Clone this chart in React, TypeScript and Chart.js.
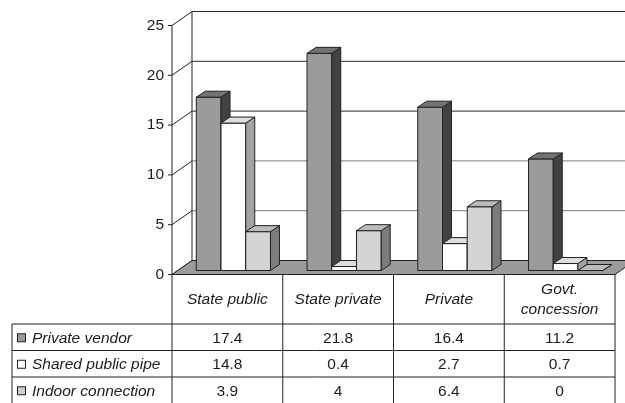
import React, { useEffect, useRef } from "react";
import { Chart, registerables } from "chart.js";

Chart.register(...registerables);

// ---- data ----
const CATEGORY_LABELS: string[][] = [
  ["State public"],
  ["State private"],
  ["Private"],
  ["Govt.", "concession"],
];
const SERIES_NAMES = ["Private vendor", "Shared public pipe", "Indoor connection"];
const PRIVATE_VENDOR = [17.4, 21.8, 16.4, 11.2];
const SHARED_PUBLIC_PIPE = [14.8, 0.4, 2.7, 0.7];
const INDOOR_CONNECTION = [3.9, 4, 6.4, 0];
const Y_TICKS = [0, 5, 10, 15, 20, 25];

// ---- styles ----
const FACE_COLORS = [
  { front: "#9b9b9b", side: "#424242", top: "#727272" },
  { front: "#ffffff", side: "#a3a3a3", top: "#dedede" },
  { front: "#d4d4d4", side: "#7c7c7c", top: "#bcbcbc" },
];
const SWATCH_COLORS = ["#9b9b9b", "#ffffff", "#cccccc"];
const FONT = "'Liberation Sans', Arial, sans-serif";
const FONT_SIZE = 15.5;
const TEXT = "#1c1c1c";
const LINE = "#222222";

const WALL_DX = 20;
const WALL_DY = -14;
const BAR_OX = 6;
const BAR_OY = -4;
const BAR_DX = 9;
const BAR_DY = -6;
const HEADER_BOTTOM = 324;
const ROW_H = 26.5;
const TABLE_LEFT = 12;

const threeD = {
  id: "threeD",
  beforeDatasetsDraw(chart: any) {
    const ctx: CanvasRenderingContext2D = chart.ctx;
    const { left, right } = chart.chartArea;
    const y = chart.scales.y;
    const y0 = y.getPixelForValue(0);
    const yTop = y.getPixelForValue(Y_TICKS[Y_TICKS.length - 1]);
    ctx.save();
    ctx.lineWidth = 1;
    // back wall gridlines
    Y_TICKS.forEach((v) => {
      if (v === 0) return;
      const py = y.getPixelForValue(v) + WALL_DY;
      ctx.strokeStyle = v >= 15 ? "#2a2a2a" : "#7a7a7a";
      ctx.beginPath();
      ctx.moveTo(left + WALL_DX, py);
      ctx.lineTo(chart.width + 5, py);
      ctx.stroke();
    });
    // diagonal lines of the left wall
    ctx.strokeStyle = LINE;
    Y_TICKS.forEach((v) => {
      const py = y.getPixelForValue(v);
      ctx.beginPath();
      ctx.moveTo(left, py);
      ctx.lineTo(left + WALL_DX, py + WALL_DY);
      ctx.stroke();
    });
    // back wall left edge
    ctx.beginPath();
    ctx.moveTo(left + WALL_DX, yTop + WALL_DY);
    ctx.lineTo(left + WALL_DX, y0 + WALL_DY);
    ctx.stroke();
    // floor
    ctx.fillStyle = "#9b9b9b";
    ctx.beginPath();
    ctx.moveTo(left, y0);
    ctx.lineTo(right, y0);
    ctx.lineTo(right + WALL_DX, y0 + WALL_DY);
    ctx.lineTo(left + WALL_DX, y0 + WALL_DY);
    ctx.closePath();
    ctx.fill();
    ctx.stroke();
    // front axis
    ctx.beginPath();
    ctx.moveTo(left, yTop);
    ctx.lineTo(left, y0);
    ctx.stroke();
    ctx.font = `${FONT_SIZE}px ${FONT}`;
    ctx.fillStyle = TEXT;
    ctx.textAlign = "right";
    ctx.textBaseline = "middle";
    Y_TICKS.forEach((v) => {
      const py = y.getPixelForValue(v);
      ctx.beginPath();
      ctx.moveTo(left - 4, py);
      ctx.lineTo(left, py);
      ctx.stroke();
      ctx.fillText(String(v), left - 8, py);
    });
    ctx.restore();
  },
  afterDatasetsDraw(chart: any) {
    const ctx: CanvasRenderingContext2D = chart.ctx;
    const n = chart.data.labels.length;
    ctx.save();
    ctx.lineWidth = 1;
    ctx.strokeStyle = LINE;
    ctx.lineJoin = "round";
    for (let i = 0; i < n; i++) {
      chart.data.datasets.forEach((_: any, j: number) => {
        const el = chart.getDatasetMeta(j).data[i];
        const c = FACE_COLORS[j];
        const x0 = el.x - el.width / 2 + BAR_OX;
        const x1 = el.x + el.width / 2 + BAR_OX;
        const yt = el.y + BAR_OY;
        const yb = el.base + BAR_OY;
        // front
        ctx.fillStyle = c.front;
        ctx.beginPath();
        ctx.rect(x0, yt, x1 - x0, yb - yt);
        ctx.fill();
        ctx.stroke();
        // side
        ctx.fillStyle = c.side;
        ctx.beginPath();
        ctx.moveTo(x1, yt);
        ctx.lineTo(x1 + BAR_DX, yt + BAR_DY);
        ctx.lineTo(x1 + BAR_DX, yb + BAR_DY);
        ctx.lineTo(x1, yb);
        ctx.closePath();
        ctx.fill();
        ctx.stroke();
        // top
        ctx.fillStyle = c.top;
        ctx.beginPath();
        ctx.moveTo(x0, yt);
        ctx.lineTo(x1, yt);
        ctx.lineTo(x1 + BAR_DX, yt + BAR_DY);
        ctx.lineTo(x0 + BAR_DX, yt + BAR_DY);
        ctx.closePath();
        ctx.fill();
        ctx.stroke();
      });
    }
    ctx.restore();
  },
  afterDraw(chart: any) {
    const ctx: CanvasRenderingContext2D = chart.ctx;
    const { left, right } = chart.chartArea;
    const xs = chart.scales.x;
    const y0 = chart.scales.y.getPixelForValue(0);
    const labels = chart.data.labels;
    const n = labels.length;
    const cw = (right - left) / n;
    const datasets = chart.data.datasets;
    const bottom = HEADER_BOTTOM + ROW_H * datasets.length;
    ctx.save();
    ctx.lineWidth = 1;
    ctx.strokeStyle = LINE;
    // vertical lines
    for (let i = 0; i <= n; i++) {
      const px = i < n ? xs.getPixelForValue(i) - cw / 2 : xs.getPixelForValue(n - 1) + cw / 2;
      ctx.beginPath();
      ctx.moveTo(px, y0);
      ctx.lineTo(px, bottom);
      ctx.stroke();
    }
    ctx.beginPath();
    ctx.moveTo(TABLE_LEFT, HEADER_BOTTOM);
    ctx.lineTo(TABLE_LEFT, bottom);
    ctx.stroke();
    for (let r = 0; r <= datasets.length; r++) {
      const py = HEADER_BOTTOM + r * ROW_H;
      ctx.beginPath();
      ctx.moveTo(TABLE_LEFT, py);
      ctx.lineTo(right, py);
      ctx.stroke();
    }
    // header
    ctx.fillStyle = TEXT;
    ctx.textAlign = "center";
    ctx.textBaseline = "middle";
    ctx.font = `italic ${FONT_SIZE}px ${FONT}`;
    const hc = (y0 + HEADER_BOTTOM) / 2;
    for (let i = 0; i < n; i++) {
      const lines: string[] = Array.isArray(labels[i]) ? labels[i] : [labels[i]];
      const lh = 20;
      lines.forEach((t, k) => {
        ctx.fillText(t, xs.getPixelForValue(i), hc + (k - (lines.length - 1) / 2) * lh);
      });
    }
    // rows
    datasets.forEach((ds: any, j: number) => {
      const cy = HEADER_BOTTOM + j * ROW_H + ROW_H / 2 + 1;
      ctx.fillStyle = SWATCH_COLORS[j];
      ctx.fillRect(17.5, cy - 4.5, 8, 8);
      ctx.strokeStyle = LINE;
      ctx.strokeRect(17.5, cy - 4.5, 8, 8);
      ctx.fillStyle = TEXT;
      ctx.textAlign = "left";
      ctx.font = `italic ${FONT_SIZE}px ${FONT}`;
      ctx.fillText(ds.label, 32, cy);
      ctx.textAlign = "center";
      ctx.font = `${FONT_SIZE}px ${FONT}`;
      ds.data.forEach((v: number, i: number) => {
        ctx.fillText(String(v), xs.getPixelForValue(i), cy);
      });
    });
    ctx.restore();
  },
};

export default function App() {
  const ref = useRef<HTMLCanvasElement | null>(null);
  useEffect(() => {
    if (!ref.current) return;
    const series = [PRIVATE_VENDOR, SHARED_PUBLIC_PIPE, INDOOR_CONNECTION];
    const chart = new Chart(ref.current, {
      type: "bar",
      data: {
        labels: CATEGORY_LABELS as any,
        datasets: series.map((d, j) => ({
          label: SERIES_NAMES[j],
          data: d,
          backgroundColor: "rgba(0,0,0,0)",
          borderWidth: 0,
          categoryPercentage: 0.67,
          barPercentage: 1,
        })),
      },
      options: {
        responsive: false,
        animation: false,
        layout: { padding: { left: 172, right: 10, top: 25.5, bottom: 128.5 } },
        scales: {
          x: { display: false },
          y: { display: false, min: 0, max: 25 },
        },
        plugins: { legend: { display: false }, tooltip: { enabled: false } },
      },
      plugins: [threeD],
    });
    return () => chart.destroy();
  }, []);
  return (
    <div style={{ position: "fixed", left: 0, top: 0, width: 625, height: 403, background: "#fff" }}>
      <canvas ref={ref} width={625} height={403} style={{ display: "block" }} />
    </div>
  );
}
